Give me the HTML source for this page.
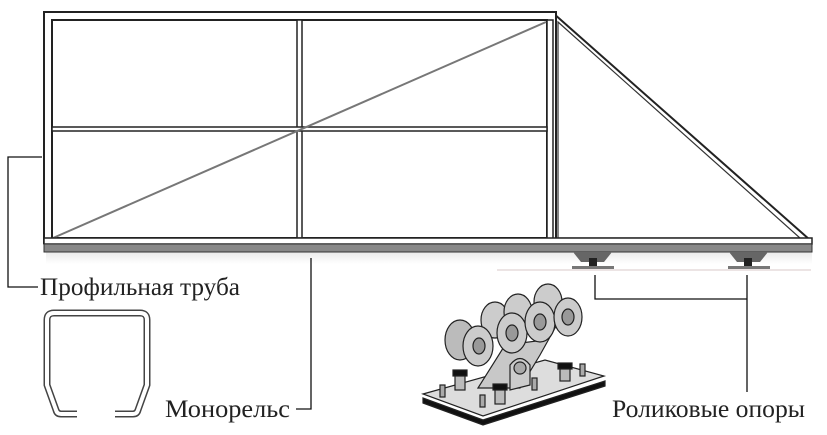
<!DOCTYPE html>
<html><head><meta charset="utf-8"><style>
html,body{margin:0;padding:0;background:#fff;}
svg{display:block}
text{font-family:"Liberation Serif",serif;font-size:25px;fill:#222}
</style></head><body>
<svg width="827" height="435" viewBox="0 0 827 435" xmlns="http://www.w3.org/2000/svg">
<defs>
<linearGradient id="sh" x1="0" y1="0" x2="0" y2="1"><stop offset="0" stop-color="#ddd"/><stop offset="1" stop-color="#fff"/></linearGradient>
</defs>
<rect x="46" y="252" width="766" height="12" fill="url(#sh)" opacity="0.6"/>
<polygon points="553,13 810,240 553,240" fill="#fff" stroke="#222" stroke-width="2"/>
<polygon points="558,22 800,238 558,238" fill="none" stroke="#333" stroke-width="1.2"/>
<rect x="44" y="12" width="512" height="231" fill="#fff" stroke="#222" stroke-width="2"/>
<rect x="52" y="20" width="495" height="218" fill="none" stroke="#222" stroke-width="2"/>
<rect x="547" y="20" width="6" height="222" fill="#fff" stroke="#222" stroke-width="1.5"/>
<rect x="297" y="20" width="5" height="218" fill="#fff" stroke="#222" stroke-width="1.5"/>
<rect x="52" y="127" width="495" height="4" fill="#fff" stroke="#222" stroke-width="1.5"/>
<line x1="53" y1="238" x2="546" y2="22" stroke="#777" stroke-width="2"/>
<rect x="44" y="238" width="768" height="6" fill="#fff" stroke="#222" stroke-width="1.5"/>
<rect x="44" y="244" width="768" height="8" fill="#888" stroke="#333" stroke-width="1"/>
<line x1="497" y1="270" x2="811" y2="270" stroke="#d8c8c8" stroke-width="1"/>
<g>
<path d="M573,252 L612,252 L604,262 L581,262 Z" fill="#666"/>
<rect x="589" y="258" width="8" height="8" fill="#222"/>
<rect x="572" y="266" width="42" height="3" fill="#777"/>
<path d="M729,252 L768,252 L760,262 L737,262 Z" fill="#666"/>
<rect x="744" y="258" width="8" height="8" fill="#222"/>
<rect x="728" y="266" width="42" height="3" fill="#777"/>
</g>
<g fill="none" stroke="#111" stroke-width="1.3">
<polyline points="42,157 8,157 8,287 38,287"/>
<polyline points="311,258 311,409 296,409"/>
<polyline points="595,275 595,299 747,299"/>
<line x1="747" y1="275" x2="747" y2="392"/>
</g>
<text x="40" y="295" textLength="200" lengthAdjust="spacingAndGlyphs">Профильная труба</text>
<text x="165" y="417" textLength="125" lengthAdjust="spacingAndGlyphs">Монорельс</text>
<text x="612" y="417" textLength="193" lengthAdjust="spacingAndGlyphs">Роликовые опоры</text>
<path d="M77,414 L61,414 Q57,414 56,410 L47,385 L47,320 Q47,313 54,313 L140,313 Q147,313 147,320 L147,385 L138,410 Q137,414 133,414 L115,414" fill="none" stroke="#444" stroke-width="7" stroke-linejoin="round"/>
<path d="M77,414 L61,414 Q57,414 56,410 L47,385 L47,320 Q47,313 54,313 L140,313 Q147,313 147,320 L147,385 L138,410 Q137,414 133,414 L115,414" fill="none" stroke="#fff" stroke-width="4" stroke-linejoin="round"/>
<g stroke="#222" stroke-width="1.2">
<polygon points="423,403 483,425 605,386 605,381 483,420 423,398" fill="#111"/>
<polygon points="423,394 545,360 604,376 483,416" fill="#ddd"/>
<polygon points="478,388 505,345 545,340 565,310 540,355 520,388" fill="#c8c8c8"/>
<ellipse cx="495" cy="320" rx="14" ry="18" fill="#ccc"/>
<ellipse cx="518" cy="312" rx="14" ry="18" fill="#ccc"/>
<ellipse cx="548" cy="302" rx="14" ry="18" fill="#ccc"/>
<ellipse cx="460" cy="340" rx="15" ry="20" fill="#bbb"/>
<ellipse cx="478" cy="346" rx="15" ry="20" fill="#ccc"/>
<ellipse cx="479" cy="346" rx="6" ry="8" fill="#999"/>
<ellipse cx="512" cy="333" rx="15" ry="20" fill="#ccc"/>
<ellipse cx="512" cy="333" rx="6" ry="8" fill="#999"/>
<ellipse cx="540" cy="322" rx="15" ry="20" fill="#ccc"/>
<ellipse cx="540" cy="322" rx="6" ry="8" fill="#999"/>
<ellipse cx="568" cy="317" rx="14" ry="19" fill="#ccc"/>
<ellipse cx="568" cy="317" rx="6" ry="8" fill="#999"/>
<path d="M510,390 L510,365 Q520,352 530,365 L530,385 Z" fill="#ccc"/>
<circle cx="520" cy="368" r="6" fill="#aaa"/>
<rect x="455" y="372" width="10" height="18" fill="#bbb"/>
<rect x="453" y="370" width="14" height="6" fill="#111"/>
<rect x="495" y="386" width="10" height="18" fill="#bbb"/>
<rect x="493" y="384" width="14" height="6" fill="#111"/>
<rect x="560" y="365" width="10" height="16" fill="#bbb"/>
<rect x="558" y="363" width="14" height="6" fill="#111"/>
<rect x="440" y="385" width="5" height="12" fill="#aaa"/>
<rect x="480" y="395" width="5" height="12" fill="#aaa"/>
<rect x="580" y="364" width="5" height="12" fill="#aaa"/>
<rect x="532" y="378" width="5" height="12" fill="#aaa"/>
</g>
</svg>
</body></html>
